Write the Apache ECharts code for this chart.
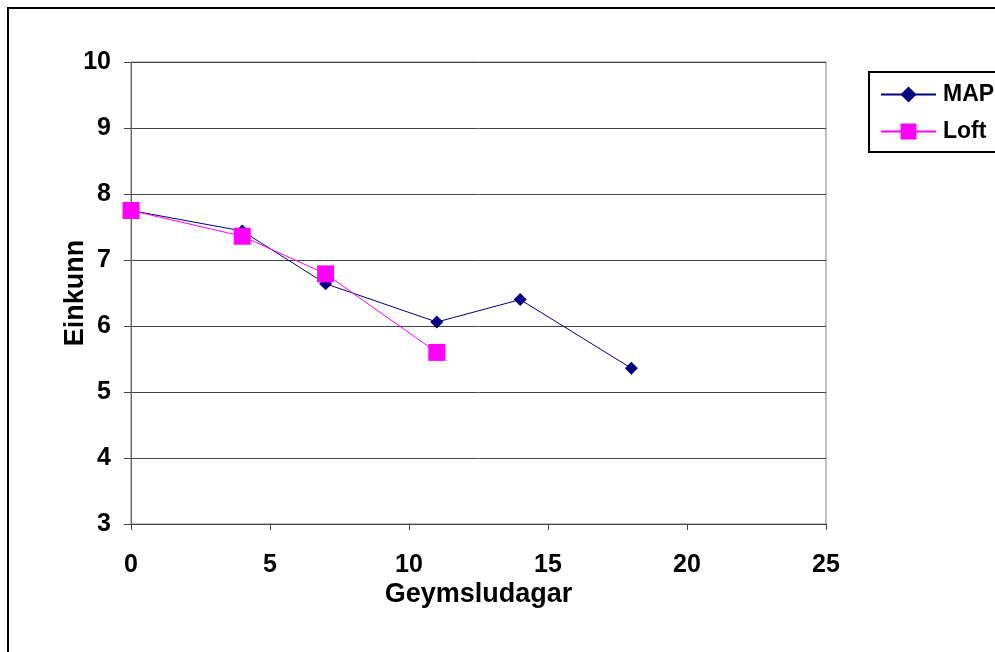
<!DOCTYPE html>
<html>
<head>
<meta charset="utf-8">
<script src="https://cdn.jsdelivr.net/npm/echarts@6/dist/echarts.min.js"></script>
<style>
  html, body { margin: 0; padding: 0; background: #fff; }
  #chart { width: 995px; height: 652px; }
</style>
</head>
<body>
<div id="chart"></div>
<script>
// geymsludagar (days) and einkunn (score)
var mapDays = [0, 4, 7, 11, 14, 18];
var mapScores = [7.75, 7.44, 6.64, 6.06, 6.4, 5.36];
var loftDays = [0, 4, 7, 11];
var loftScores = [7.75, 7.36, 6.79, 5.6];

function pairs(xs, ys) {
  return xs.map(function (x, i) { return [x, ys[i]]; });
}

var font = 'Liberation Sans, Arial, sans-serif';
var myChart = echarts.init(document.getElementById('chart'));
myChart.setOption({
  animation: false,
  backgroundColor: '#fff',
  textStyle: { fontFamily: font },
  graphic: [{
    type: 'rect',
    shape: { x: 8, y: 8, width: 1000, height: 700 },
    style: { fill: 'none', stroke: '#000', lineWidth: 2 }
  }],
  grid: {
    left: 131, top: 62, right: 169, bottom: 128,
    show: true, borderColor: '#808080', borderWidth: 1,
    backgroundColor: 'transparent'
  },
  legend: {
    orient: 'vertical',
    left: 869, top: 72,
    padding: [11, 30, 9, 11],
    itemWidth: 55, itemHeight: 20, itemGap: 14,
    borderColor: '#000', borderWidth: 2,
    textStyle: { fontFamily: font, fontWeight: 'bold', fontSize: 23, color: '#000', padding: [0, 0, 0, 2] },
    data: ['MAP', 'Loft']
  },
  xAxis: {
    type: 'value', min: 0, max: 25, interval: 5,
    name: 'Geymsludagar', nameLocation: 'middle', nameGap: 57,
    nameMoveOverlap: false,
    nameTextStyle: { fontFamily: font, fontWeight: 'bold', fontSize: 27, color: '#000' },
    axisLine: { lineStyle: { color: '#444', width: 1 } },
    axisTick: { show: true, inside: false, length: 6, lineStyle: { color: '#444' } },
    axisLabel: { fontFamily: font, fontWeight: 'bold', fontSize: 25, color: '#000', margin: 29 },
    splitLine: { show: false }
  },
  yAxis: {
    type: 'value', min: 3, max: 10, interval: 1,
    name: 'Einkunn', nameLocation: 'middle', nameGap: 42,
    nameMoveOverlap: false,
    nameTextStyle: { fontFamily: font, fontWeight: 'bold', fontSize: 27, color: '#000' },
    axisLine: { show: true, lineStyle: { color: '#666', width: 1 } },
    axisTick: { show: true, inside: false, length: 7, lineStyle: { color: '#444' } },
    axisLabel: { fontFamily: font, fontWeight: 'bold', fontSize: 25, color: '#000', margin: 20 },
    splitLine: { show: true, lineStyle: { color: '#444', width: 1 } }
  },
  series: [
    {
      name: 'MAP', type: 'line',
      data: pairs(mapDays, mapScores),
      symbol: 'diamond', symbolSize: 13,
      lineStyle: { color: '#000080', width: 1 },
      itemStyle: { color: '#000080' }
    },
    {
      name: 'Loft', type: 'line',
      data: pairs(loftDays, loftScores),
      symbol: 'rect', symbolSize: 17,
      lineStyle: { color: '#ff00ff', width: 1 },
      itemStyle: { color: '#ff00ff' }
    }
  ]
});
</script>
</body>
</html>
